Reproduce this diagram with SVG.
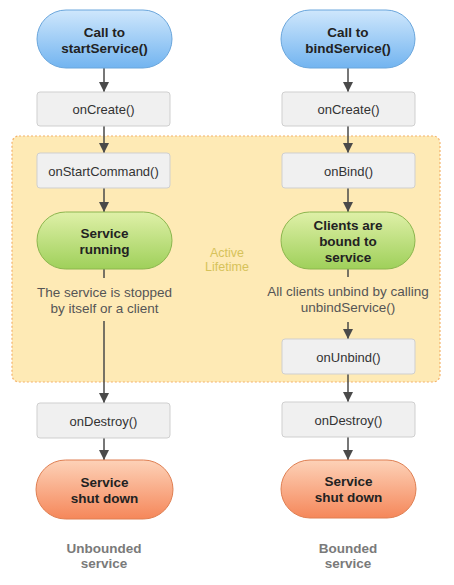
<svg xmlns="http://www.w3.org/2000/svg" width="454" height="585" viewBox="0 0 454 585">
<defs>
<linearGradient id="gBlue" x1="0" y1="0" x2="0" y2="1"><stop offset="0" stop-color="#cfe7fc"/><stop offset="1" stop-color="#72b4f0"/></linearGradient>
<linearGradient id="gGreen" x1="0" y1="0" x2="0" y2="1"><stop offset="0" stop-color="#dff0a8"/><stop offset="1" stop-color="#9fd05a"/></linearGradient>
<linearGradient id="gOrange" x1="0" y1="0" x2="0" y2="1"><stop offset="0" stop-color="#fdd2b8"/><stop offset="1" stop-color="#f5875a"/></linearGradient>
<marker id="arr" viewBox="0 0 10 10" refX="10" refY="5" markerWidth="10" markerHeight="10" markerUnits="userSpaceOnUse" orient="auto"><path d="M0,0 L10,5 L0,10 z" fill="#4a4a4a"/></marker>
</defs>
<style>
.t{font-family:"Liberation Sans",Arial,sans-serif;text-anchor:middle;}
.b{font-weight:bold;font-size:13.5px;fill:#222;}
.r{font-size:13px;fill:#333;}
.a{font-size:13.5px;fill:#555;}
.lab{font-weight:bold;font-size:13.5px;fill:#7a7a7a;}
.box{fill:#f0f0f0;stroke:#cfcfcf;stroke-width:1;}
.blue{fill:url(#gBlue);stroke:#6aa6dc;stroke-width:1;}
.green{fill:url(#gGreen);stroke:#8cb64e;stroke-width:1;}
.orange{fill:url(#gOrange);stroke:#df7f52;stroke-width:1;}
.c{stroke:#4a4a4a;stroke-width:1.5;fill:none;}
</style>
<rect id="active-lifetime" x="12" y="136" width="428" height="246" rx="7" fill="#feeab5" stroke="#f4b26a" stroke-width="1.2" stroke-dasharray="2,2"/>
<text class="t" x="227" y="256.5" font-size="12.5" fill="#d6c25a">Active</text>
<text class="t" x="227" y="271" font-size="12.5" fill="#d6c25a">Lifetime</text>
<g id="connectors">
<line class="c" x1="104" y1="68" x2="104" y2="92" marker-end="url(#arr)"/>
<line class="c" x1="104" y1="126" x2="104" y2="153" marker-end="url(#arr)"/>
<line class="c" x1="104" y1="188" x2="104" y2="212" marker-end="url(#arr)"/>
<line class="c" x1="104" y1="269" x2="104" y2="278"/>
<line class="c" x1="104" y1="321" x2="104" y2="403" marker-end="url(#arr)"/>
<line class="c" x1="104" y1="438" x2="104" y2="460" marker-end="url(#arr)"/>
<line class="c" x1="348" y1="68" x2="348" y2="92" marker-end="url(#arr)"/>
<line class="c" x1="348" y1="126" x2="348" y2="153" marker-end="url(#arr)"/>
<line class="c" x1="348" y1="188" x2="348" y2="212" marker-end="url(#arr)"/>
<line class="c" x1="348" y1="269" x2="348" y2="277"/>
<line class="c" x1="348" y1="322" x2="348" y2="339" marker-end="url(#arr)"/>
<line class="c" x1="348" y1="374" x2="348" y2="402" marker-end="url(#arr)"/>
<line class="c" x1="348" y1="437" x2="348" y2="460" marker-end="url(#arr)"/>
</g>
<g id="start-service"><rect class="blue" x="37" y="10" width="135" height="58" rx="29"/><text class="t b" x="104.5" y="37">Call to</text><text class="t b" x="104.5" y="53">startService()</text></g>
<g id="bind-service"><rect class="blue" x="281" y="10" width="134" height="58" rx="29"/><text class="t b" x="348" y="37">Call to</text><text class="t b" x="348" y="53">bindService()</text></g>
<g id="oncreate-left"><rect class="box" x="37" y="92" width="133" height="34" rx="3"/><text class="t r" x="103.5" y="114">onCreate()</text></g>
<g id="oncreate-right"><rect class="box" x="282" y="92" width="133" height="34" rx="3"/><text class="t r" x="348.5" y="114">onCreate()</text></g>
<g id="onstartcommand"><rect class="box" x="37" y="153" width="133" height="35" rx="3"/><text class="t r" x="103.5" y="175.5">onStartCommand()</text></g>
<g id="onbind"><rect class="box" x="282" y="153" width="133" height="35" rx="3"/><text class="t r" x="348.5" y="175.5">onBind()</text></g>
<g id="service-running"><rect class="green" x="37" y="212" width="135" height="57" rx="28.5"/><text class="t b" x="104.5" y="238">Service</text><text class="t b" x="104.5" y="254">running</text></g>
<g id="clients-bound"><rect class="green" x="281" y="212" width="134" height="57" rx="28.5"/><text class="t b" x="348" y="230">Clients are</text><text class="t b" x="348" y="246">bound to</text><text class="t b" x="348" y="262">service</text></g>
<g id="note-left"><text class="t a" x="104.5" y="297">The service is stopped</text><text class="t a" x="104.5" y="313">by itself or a client</text></g>
<g id="note-right"><text class="t a" x="348" y="296">All clients unbind by calling</text><text class="t a" x="348" y="312">unbindService()</text></g>
<g id="onunbind"><rect class="box" x="282" y="339" width="133" height="35" rx="3"/><text class="t r" x="348.5" y="361.5">onUnbind()</text></g>
<g id="ondestroy-left"><rect class="box" x="37" y="403" width="133" height="35" rx="3"/><text class="t r" x="103.5" y="425.5">onDestroy()</text></g>
<g id="ondestroy-right"><rect class="box" x="282" y="402" width="133" height="35" rx="3"/><text class="t r" x="348.5" y="424.5">onDestroy()</text></g>
<g id="shutdown-left"><rect class="orange" x="36" y="460" width="137" height="59" rx="29.5"/><text class="t b" x="104.5" y="487">Service</text><text class="t b" x="104.5" y="502.5">shut down</text></g>
<g id="shutdown-right"><rect class="orange" x="281" y="460" width="135" height="58" rx="29"/><text class="t b" x="348.5" y="486">Service</text><text class="t b" x="348.5" y="501.5">shut down</text></g>
<g id="label-left"><text class="t lab" x="104" y="553">Unbounded</text><text class="t lab" x="104" y="568">service</text></g>
<g id="label-right"><text class="t lab" x="348" y="553">Bounded</text><text class="t lab" x="348" y="568">service</text></g>
</svg>
